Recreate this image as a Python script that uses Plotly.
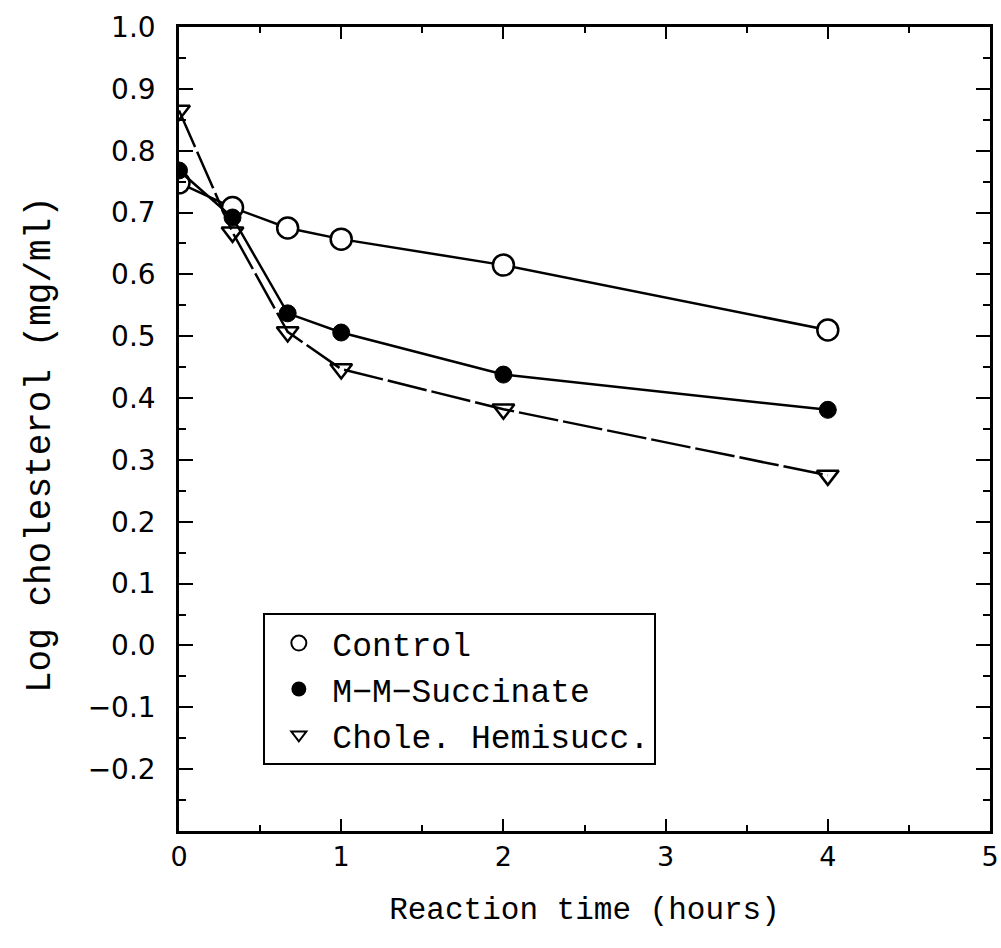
import plotly.graph_objects as go

time_h = [0, 0.33, 0.67, 1, 2, 4]
control = [0.748, 0.708, 0.675, 0.657, 0.615, 0.51]
mm_succinate = [0.768, 0.692, 0.537, 0.506, 0.438, 0.381]
chole_hemisucc = [0.865, 0.668, 0.507, 0.447, 0.382, 0.275]

names = ["Control", "M\u2212M\u2212Succinate", "Chole. Hemisucc."]
y_title = "Log cholesterol (mg/ml)"
x_title = "Reaction time (hours)"
mono = "Liberation Mono, Courier New, monospace"
sans = "DejaVu Sans, Arial, sans-serif"

fig = go.Figure()
fig.add_trace(go.Scatter(x=time_h, y=control, mode="lines+markers", showlegend=False,
                         line=dict(color="black", width=2.5),
                         marker=dict(symbol="circle", size=21, color="white",
                                     line=dict(color="black", width=2.5))))
fig.add_trace(go.Scatter(x=time_h, y=mm_succinate, mode="lines+markers", showlegend=False,
                         line=dict(color="black", width=2.5),
                         marker=dict(symbol="circle", size=17, color="black",
                                     line=dict(color="black", width=1))))
fig.add_trace(go.Scatter(x=time_h, y=chole_hemisucc, mode="lines+markers", showlegend=False,
                         line=dict(color="black", width=2.5, dash="40px,5px"),
                         marker=dict(symbol="triangle-down-open", size=19, color="black",
                                     line=dict(color="black", width=2.5))))

# legend-only entries (markers only)
fig.add_trace(go.Scatter(x=[None], y=[None], mode="markers", name=names[0],
                         marker=dict(symbol="circle-open", size=15, color="black",
                                     line=dict(width=2))))
fig.add_trace(go.Scatter(x=[None], y=[None], mode="markers", name=names[1],
                         marker=dict(symbol="circle", size=15, color="black")))
fig.add_trace(go.Scatter(x=[None], y=[None], mode="markers", name=names[2],
                         marker=dict(symbol="triangle-down-open", size=13, color="black",
                                     line=dict(width=2))))

fig.update_layout(
    width=1001, height=948,
    margin=dict(l=179, r=11, t=27, b=117),
    paper_bgcolor="white", plot_bgcolor="white",
    font=dict(family=mono, size=26, color="black"),
    showlegend=True,
    legend=dict(x=0.104, y=0.271, xanchor="left", yanchor="top",
                bordercolor="black", borderwidth=2, bgcolor="white",
                font=dict(family=mono, size=33), tracegroupgap=0,
                itemsizing="trace", itemwidth=57),
    annotations=[dict(text=y_title, xref="paper", yref="paper",
                      x=(40 - 179) / 811, y=(831 - 445) / 804,
                      xanchor="center", yanchor="middle", textangle=-90,
                      showarrow=False, font=dict(family=mono, size=36))],
)
fig.update_xaxes(range=[0, 5], tickmode="array", tickvals=[0, 1, 2, 3, 4, 5],
                 ticks="inside", ticklen=12, tickwidth=2, tickcolor="black",
                 showline=True, linecolor="black", linewidth=2.5, mirror="ticks",
                 showgrid=False, zeroline=False, automargin=False,
                 minor=dict(dtick=0.5, ticks="inside", ticklen=6, tickwidth=2, tickcolor="black"),
                 tickfont=dict(family=sans, size=27),
                 title=dict(text=x_title, font=dict(family=mono, size=31), standoff=27))
fig.update_yaxes(range=[-0.3, 1.0], tickmode="array",
                 tickvals=[-0.2, -0.1, 0.0, 0.1, 0.2, 0.3, 0.4, 0.5, 0.6, 0.7, 0.8, 0.9, 1.0],
                 ticktext=["\u22120.2", "\u22120.1", "0.0", "0.1", "0.2", "0.3", "0.4", "0.5",
                           "0.6", "0.7", "0.8", "0.9", "1.0"],
                 ticks="inside", ticklen=14, tickwidth=2, tickcolor="black",
                 showline=True, linecolor="black", linewidth=2.5, mirror="ticks",
                 showgrid=False, zeroline=False, automargin=False,
                 minor=dict(dtick=0.05, ticks="inside", ticklen=7, tickwidth=2, tickcolor="black"),
                 tickfont=dict(family=sans, size=28), ticklabelstandoff=15)

fig.write_html("out.html", config={"displayModeBar": False},
               post_script="document.body.style.margin='0';document.body.style.overflow='hidden';")
